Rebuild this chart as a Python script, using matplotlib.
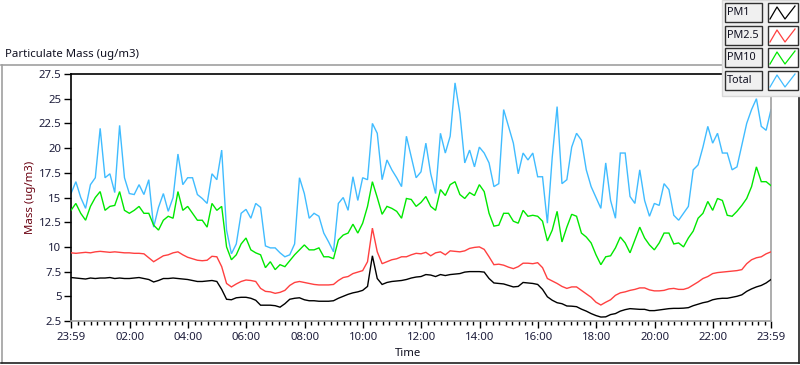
import numpy as np
import matplotlib
matplotlib.use('Agg')
import matplotlib.pyplot as plt
from matplotlib.lines import Line2D
from matplotlib.patches import Rectangle

plt.rcParams['font.family'] = ['Noto Sans', 'DejaVu Sans']

# ---------------- data (10-minute samples from 23:59 to 23:59) ----------------
step_minutes = 10

pm1 = [6.9, 6.85, 6.8, 6.75, 6.85, 6.8, 6.85, 6.85, 6.9, 6.8, 6.85, 6.8, 6.8, 6.85, 6.9, 6.8,
       6.7, 6.45, 6.6, 6.8, 6.8, 6.85, 6.8, 6.75, 6.7, 6.6, 6.5, 6.5, 6.55, 6.6, 6.5, 5.7,
       4.7, 4.65, 4.85, 4.9, 4.9,
       4.8, 4.6, 4.1, 4.1, 4.1, 4.05, 3.9, 4.25, 4.7, 4.8, 4.85, 4.65, 4.55, 4.55, 4.5, 4.5,
       4.5, 4.55, 4.8, 5.0, 5.2, 5.35, 5.45, 5.6, 6.0, 9.1, 6.8, 6.2, 6.4, 6.5, 6.55, 6.6,
       6.7, 6.85, 6.95, 7.0,
       7.2, 7.15, 7.0, 7.2, 7.1, 7.2, 7.25, 7.3, 7.45, 7.5, 7.5, 7.5, 7.45, 6.8, 6.35, 6.3,
       6.25, 6.1, 5.95, 6.0, 6.4, 6.35, 6.3, 6.2, 5.7, 4.95, 4.6, 4.35, 4.25, 4.02, 4.0, 3.95,
       3.7, 3.5, 3.25, 3.05,
       2.9, 2.92, 3.15, 3.25, 3.5, 3.65, 3.75, 3.72, 3.68, 3.68, 3.55, 3.55, 3.62, 3.68, 3.75,
       3.78, 3.78, 3.8, 3.85, 4.05, 4.2, 4.35, 4.45, 4.65, 4.75, 4.8, 4.8, 4.9, 5.0, 5.15, 5.5,
       5.75, 5.95, 6.1, 6.35, 6.7]

pm25 = [9.4, 9.35, 9.4, 9.45, 9.4, 9.5, 9.55, 9.5, 9.45, 9.5, 9.45, 9.4, 9.4, 9.35, 9.35, 9.3,
        8.9, 8.5, 8.8, 9.1, 9.2, 9.4, 9.5, 9.2, 8.95, 8.8, 8.65, 8.6, 8.65, 9.05, 9.0, 8.0,
        6.3, 5.95, 6.25, 6.5, 6.65,
        6.6, 6.5, 5.8, 5.5, 5.45, 5.3, 5.4, 5.6, 6.1, 6.4, 6.5, 6.4, 6.3, 6.2, 6.15, 6.15,
        6.15, 6.2, 6.6, 6.9, 7.0, 7.3, 7.45, 7.6, 8.5, 11.9, 9.5, 8.3, 8.5, 8.7, 8.8, 9.0,
        9.0, 9.2, 9.35, 9.3,
        9.45, 9.1, 9.4, 9.5, 9.2, 9.6, 9.55, 9.5, 9.6, 9.85, 9.95, 10.0, 9.75, 9.0, 8.2, 8.25,
        8.15, 7.95, 7.8, 8.0, 8.35, 8.35, 8.3, 8.4, 7.9, 6.8, 6.55, 6.3, 6.0, 5.8, 5.95, 5.95,
        5.6, 5.25, 4.9, 4.4,
        4.12, 4.4, 4.65, 5.1, 5.35, 5.45, 5.6, 5.7, 5.85, 5.85, 5.65, 5.55, 5.55, 5.6, 5.75,
        5.8, 5.7, 5.7, 5.85, 6.15, 6.45, 6.8, 7.0, 7.3, 7.4, 7.45, 7.5, 7.55, 7.6, 7.7, 8.3,
        8.7, 8.9, 9.0, 9.3, 9.5]

pm10 = [13.7, 14.4, 13.4, 12.7, 14.1, 15.0, 15.6, 13.7, 14.1, 14.2, 15.6, 13.7, 13.4, 13.7,
        14.1, 13.4, 13.4, 12.2, 11.7, 12.7, 13.1, 12.9, 15.6, 13.7, 14.1, 13.4, 12.7, 12.7,
        12.0, 14.4, 13.7, 14.1, 10.0, 8.7, 9.2, 10.3, 10.9,
        9.7, 9.4, 9.2, 7.9, 8.5, 7.7, 8.2, 8.0, 8.6, 9.2, 9.7, 10.2, 9.7, 9.7, 9.9, 9.0, 9.0,
        8.8, 10.7, 11.2, 11.4, 12.3, 11.4, 12.4, 14.1, 16.6, 15.0, 13.3, 14.1, 13.9, 13.6,
        12.9, 14.9, 14.8, 14.1, 14.5,
        15.1, 14.1, 13.7, 15.8, 15.2, 16.3, 16.6, 15.3, 14.9, 15.5, 15.2, 16.3, 15.6, 13.4,
        12.1, 12.2, 13.4, 13.4, 12.6, 12.4, 13.7, 13.1, 13.2, 13.1, 12.6, 10.6, 11.7, 13.6,
        10.5, 12.0, 13.3, 13.1, 11.4, 11.0, 10.4, 9.2,
        8.2, 9.0, 9.1, 9.9, 11.0, 10.4, 9.4, 10.7, 12.0, 10.9, 10.2, 9.7, 10.4, 11.4, 11.4,
        10.3, 10.4, 10.0, 10.9, 11.6, 12.9, 13.4, 14.6, 13.7, 14.9, 14.7, 13.2, 13.1, 13.6,
        14.2, 14.9, 16.1, 18.1, 16.6, 16.6, 16.2]

total = [15.4, 16.6, 15.0, 13.9, 16.3, 17.0, 22.0, 17.0, 17.4, 15.5, 22.3, 17.0, 15.4, 15.3,
         16.3, 15.3, 16.8, 12.0, 14.0, 15.4, 13.6, 15.0, 19.4, 16.3, 17.0, 17.0, 15.3, 14.9,
         14.4, 17.4, 16.8, 19.8, 11.7, 9.3, 10.3, 13.4, 13.8,
         12.9, 14.4, 14.0, 10.1, 9.9, 9.9, 9.4, 9.0, 9.2, 10.3, 17.0, 15.4, 12.9, 13.4, 13.1,
         11.4, 10.5, 9.5, 14.4, 15.0, 13.7, 17.1, 14.7, 17.0, 16.8, 22.5, 21.5, 16.8, 18.8,
         17.8, 17.0, 16.1, 21.2, 19.1, 17.0, 17.6,
         20.5, 17.4, 15.4, 21.5, 19.5, 21.2, 26.6, 23.5, 18.5, 19.8, 18.1, 20.1, 19.5, 18.5,
         16.1, 16.4, 23.9, 22.2, 20.5, 17.4, 19.5, 18.8, 19.5, 17.1, 17.1, 12.4, 19.1, 24.2,
         16.4, 16.8, 20.1, 21.5, 20.8, 17.8, 16.1, 15.0,
         13.9, 18.5, 14.7, 12.9, 19.5, 19.5, 15.1, 14.4, 17.8, 14.7, 13.1, 14.4, 14.2, 16.4,
         15.8, 13.2, 12.7, 13.4, 14.1, 17.8, 18.3, 20.1, 22.2, 20.5, 21.5, 19.5, 19.5, 17.8,
         18.1, 20.3, 22.5, 23.9, 25.0, 22.2, 21.8, 23.9]

series_names = ['PM1', 'PM2.5', 'PM10', 'Total']
series_colors = ['#000000', '#ff4040', '#00e800', '#40bcff']

x_tick_labels = ['23:59', '02:00', '04:00', '06:00', '08:00', '10:00', '12:00',
                 '14:00', '16:00', '18:00', '20:00', '22:00', '23:59']
y_ticks = [2.5, 5, 7.5, 10, 12.5, 15, 17.5, 20, 22.5, 25, 27.5]
y_tick_labels = ['2.5', '5', '7.5', '10', '12.5', '15', '17.5', '20', '22.5', '25', '27.5']

# ---------------- figure ----------------
W, H = 800, 365
fig = plt.figure(figsize=(W / 100, H / 100), dpi=100)
fig.patch.set_facecolor('white')


def fx(x):
    return x / W


def fy(y):
    return 1 - y / H


ax = fig.add_axes([fx(71), fy(321), fx(771) - fx(71), fy(74) - fy(321)])

minutes = np.arange(len(total)) * step_minutes
for vals, col, z in zip([pm1, pm25, pm10, total], series_colors, [5, 4, 3, 2]):
    ax.plot(minutes, vals, color=col, lw=1.0, zorder=z, solid_joinstyle='miter')

start = 23 * 60 + 59
tick_pos = []
for i, lab in enumerate(x_tick_labels):
    h, m = map(int, lab.split(':'))
    p = ((h * 60 + m) - start) % 1440
    if i == len(x_tick_labels) - 1:
        p = 1440
    tick_pos.append(p)

ax.set_xlim(0, 1440)
ax.set_ylim(2.5, 27.5)
ax.set_xticks(tick_pos)
ax.set_xticklabels(x_tick_labels)
minor = []
for a, b in zip(tick_pos[:-1], tick_pos[1:]):
    for j in range(1, 9):
        minor.append(a + (b - a) * j / 9)
ax.set_xticks(minor, minor=True)
ax.set_yticks(y_ticks)
ax.set_yticklabels(y_tick_labels)

lab_col = '#1e1e3c'
fs = 8.2
ax.tick_params(axis='both', which='major', labelsize=fs, labelcolor=lab_col,
               color='#000000', length=5, width=1)
ax.tick_params(axis='x', which='minor', length=3, width=1, color='#000000')
ax.tick_params(axis='x', pad=3)
ax.tick_params(axis='y', pad=2)

ax.spines['top'].set_color('#000000')
ax.spines['left'].set_color('#000000')
ax.spines['bottom'].set_color('#a0a0a0')
ax.spines['right'].set_color('#a0a0a0')
for s in ax.spines.values():
    s.set_linewidth(1.2)

# texts
fig.text(fx(5), fy(54), 'Particulate Mass (ug/m3)', fontsize=fs, color='#101020',
         ha='left', va='center')
fig.text(fx(30), fy(197), 'Mass (ug/m3)', fontsize=fs, color='#6a0010',
         rotation=90, ha='center', va='center')
fig.text(fx(408), fy(353), 'Time', fontsize=fs, color='#101020', ha='center', va='center')

# outer panel frame
frame_kw = dict(transform=fig.transFigure, lw=1.2)
fig.add_artist(Line2D([fx(1), fx(800)], [fy(65), fy(65)], color='#a0a0a0', **frame_kw))
fig.add_artist(Line2D([fx(1.5), fx(1.5)], [fy(65), fy(363)], color='#a0a0a0', **frame_kw))
fig.add_artist(Line2D([fx(1), fx(799)], [fy(363), fy(363)], color='#202020', **frame_kw))
fig.add_artist(Line2D([fx(798.5), fx(798.5)], [fy(65), fy(363)], color='#202020', **frame_kw))

# legend panel
fig.add_artist(Rectangle((fx(722), fy(96)), fx(800) - fx(722), fy(0) - fy(96),
                         transform=fig.transFigure, facecolor='#f0f0f0',
                         edgecolor='#d8d8d8', lw=1, zorder=10))
row_tops = [3, 26, 48, 71]
for name, col, top in zip(series_names, series_colors, row_tops):
    bot = top + 19
    fig.add_artist(Rectangle((fx(725), fy(bot)), fx(762) - fx(725), fy(top) - fy(bot),
                             transform=fig.transFigure, facecolor='#f0f0f0',
                             edgecolor='#303030', lw=1.0, zorder=11))
    fig.text(fx(727), fy((top + bot) / 2), name, fontsize=7.8, color='#101020',
             ha='left', va='center', zorder=12)
    fig.add_artist(Rectangle((fx(768), fy(bot)), fx(798) - fx(768), fy(top) - fy(bot),
                             transform=fig.transFigure, facecolor='white',
                             edgecolor='#303030', lw=1.0, zorder=11))
    zx = [770, 777, 785, 795]
    zy = [bot - 3, top + 4, bot - 3, top + 3]
    fig.add_artist(Line2D([fx(v) for v in zx], [fy(v) for v in zy], color=col, lw=0.9,
                          transform=fig.transFigure, zorder=12))

fig.savefig('out.png', dpi=100)
